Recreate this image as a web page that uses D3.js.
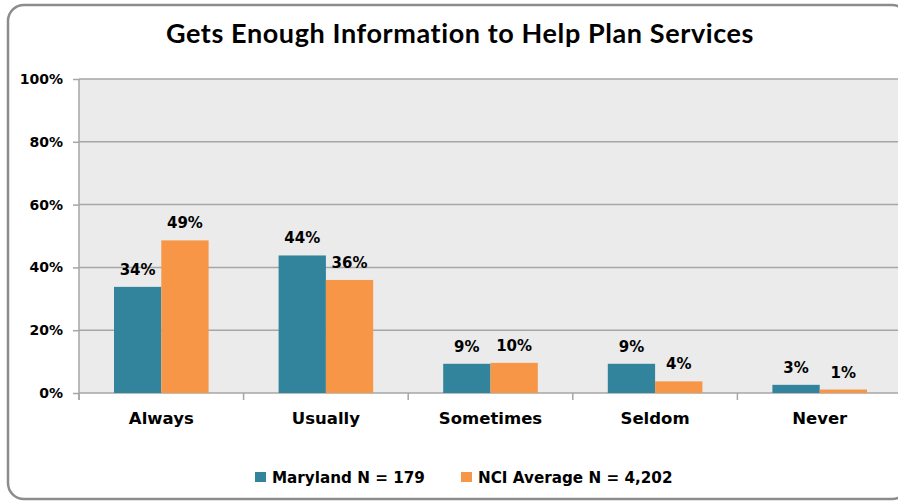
<!DOCTYPE html>
<html>
<head>
<meta charset="utf-8">
<script src="https://cdn.jsdelivr.net/npm/d3@7"></script>
<style>
  html, body { margin: 0; padding: 0; background: #fff; }
  svg { display: block; }
</style>
</head>
<body>
<svg id="chart" width="898" height="501"></svg>
<script>
const title = "Gets Enough Information to Help Plan Services";
const categories = ["Always", "Usually", "Sometimes", "Seldom", "Never"];
const seriesNames = ["Maryland N = 179", "NCI Average N = 4,202"];
const maryland = [33.8, 43.8, 9.3, 9.3, 2.6];
const nciAverage = [48.6, 36.0, 9.6, 3.7, 1.1];
const yTicks = [0, 20, 40, 60, 80, 100];
const colors = ["#31849b", "#f79646"];

const svg = d3.select("#chart");
const plot = { left: 79, right: 902, top: 79, bottom: 393 };

// outer rounded border
svg.append("rect")
  .attr("x", 8).attr("y", 5).attr("width", 900).attr("height", 494)
  .attr("rx", 16).attr("ry", 16)
  .attr("fill", "#fff").attr("stroke", "#8c8c8c").attr("stroke-width", 2.5);

// title
svg.append("text")
  .attr("x", 460).attr("y", 43)
  .attr("text-anchor", "middle")
  .attr("font-family", "Lato, 'Open Sans', sans-serif")
  .attr("font-weight", "bold")
  .attr("font-size", 27)
  .attr("letter-spacing", 0.6)
  .attr("fill", "#000")
  .text(title);

const x0 = d3.scaleBand().domain(categories).range([plot.left, plot.right]).paddingInner(0).paddingOuter(0);
const x1 = d3.scaleBand().domain([0, 1]).range([35, x0.bandwidth() - 35]);
const y = d3.scaleLinear().domain([0, 100]).range([plot.bottom, plot.top]);

// plot background
svg.append("rect")
  .attr("x", plot.left).attr("y", plot.top)
  .attr("width", plot.right - plot.left).attr("height", plot.bottom - plot.top)
  .attr("fill", "#ebebeb");

// gridlines
svg.append("g").selectAll("line").data(yTicks.filter(d => d > 0)).join("line")
  .attr("x1", plot.left).attr("x2", plot.right)
  .attr("y1", d => y(d)).attr("y2", d => y(d))
  .attr("stroke", "#a6a6a6").attr("stroke-width", 1.5);

// y axis
const yAxis = d3.axisLeft(y).tickValues(yTicks).tickFormat(d => d + "%").tickSize(6).tickPadding(10);
const gy = svg.append("g").attr("transform", `translate(${plot.left},0)`).call(yAxis);
gy.select(".domain").attr("stroke", "#a6a6a6").attr("stroke-width", 1.5)
  .attr("d", `M0,${plot.top}V${plot.bottom + 7}`);
gy.selectAll(".tick line").attr("stroke", "#a6a6a6").attr("stroke-width", 1.5);
gy.selectAll(".tick text")
  .attr("font-family", "'DejaVu Sans', Verdana, sans-serif")
  .attr("font-weight", "bold").attr("font-size", 14).attr("fill", "#000");

// x axis
const gx = svg.append("g").attr("transform", `translate(0,${plot.bottom})`);
gx.append("line").attr("x1", plot.left).attr("x2", plot.right).attr("y1", 0).attr("y2", 0)
  .attr("stroke", "#a6a6a6").attr("stroke-width", 1.5);
const boundaries = categories.map(c => x0(c)).concat([plot.right]);
gx.selectAll("line.tk").data(boundaries).join("line").attr("class", "tk")
  .attr("x1", d => d).attr("x2", d => d).attr("y1", 0).attr("y2", 7)
  .attr("stroke", "#a6a6a6").attr("stroke-width", 1.5);
gx.selectAll("text").data(categories).join("text")
  .attr("x", d => x0(d) + x0.bandwidth() / 2)
  .attr("y", 31)
  .attr("text-anchor", "middle")
  .attr("font-family", "'DejaVu Sans', Verdana, sans-serif")
  .attr("font-weight", "bold").attr("font-size", 16.5).attr("fill", "#000")
  .text(d => d);

// bars
const series = [maryland, nciAverage];
const groups = svg.append("g").selectAll("g").data(series).join("g")
  .attr("fill", (d, i) => colors[i]);
groups.each(function(vals, si) {
  const g = d3.select(this);
  g.selectAll("rect").data(vals).join("rect")
    .attr("x", (d, i) => x0(categories[i]) + x1(si))
    .attr("y", d => y(d))
    .attr("width", x1.bandwidth())
    .attr("height", d => plot.bottom - y(d));
  g.selectAll("text").data(vals).join("text")
    .attr("x", (d, i) => x0(categories[i]) + x1(si) + x1.bandwidth() / 2)
    .attr("y", d => y(d) - 12)
    .attr("text-anchor", "middle")
    .attr("font-family", "'DejaVu Sans', Verdana, sans-serif")
    .attr("font-weight", "bold").attr("font-size", 15).attr("fill", "#000")
    .text(d => Math.round(d) + "%");
});

// legend
const legendX = [255, 461];
const lg = svg.append("g").selectAll("g").data(seriesNames).join("g")
  .attr("transform", (d, i) => `translate(${legendX[i]},472)`);
lg.append("rect").attr("width", 11).attr("height", 10).attr("fill", (d, i) => colors[i]);
lg.append("text").attr("x", 17).attr("y", 11)
  .attr("font-family", "'DejaVu Sans', Verdana, sans-serif")
  .attr("font-weight", "bold").attr("font-size", 15.2).attr("fill", "#000")
  .text(d => d);
</script>
</body>
</html>
